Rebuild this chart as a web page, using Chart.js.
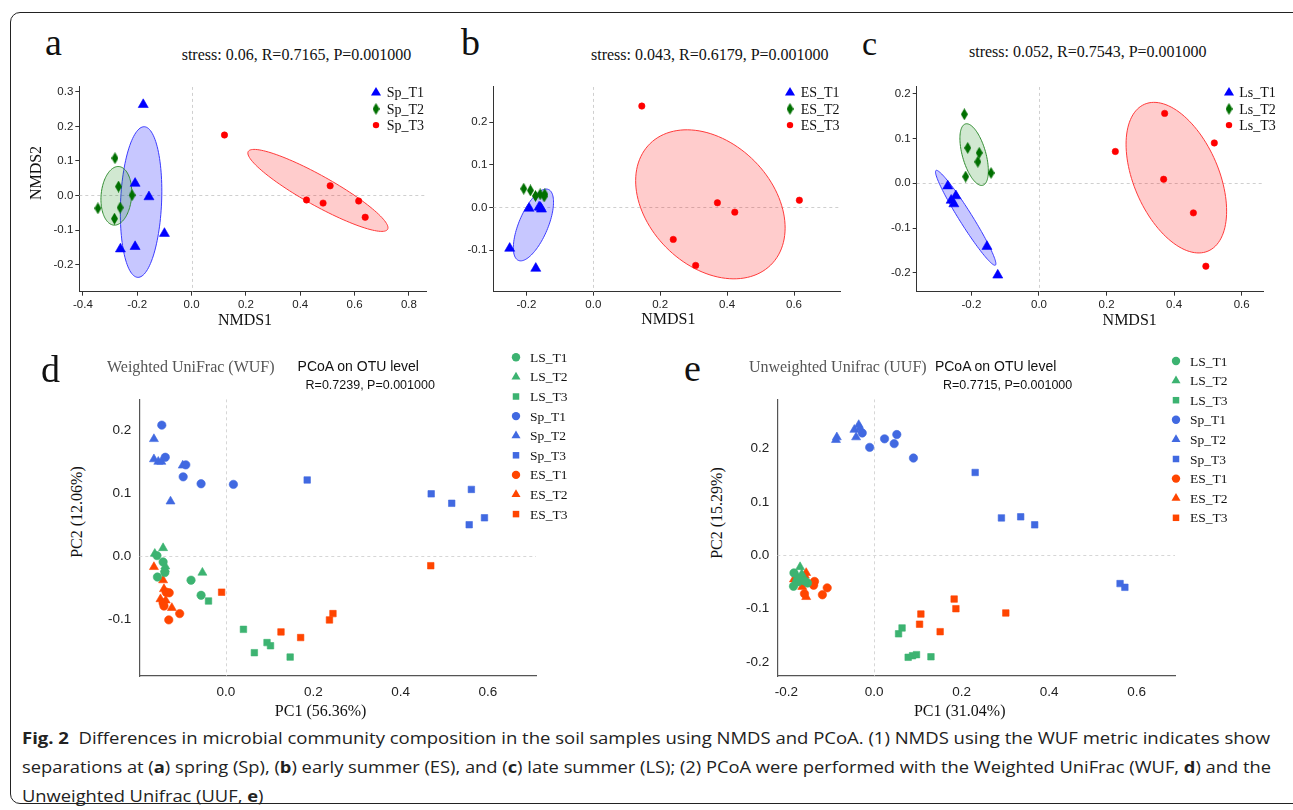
<!DOCTYPE html>
<html><head><meta charset="utf-8">
<script src="https://cdn.jsdelivr.net/npm/chart.js@4.4.0/dist/chart.umd.min.js"></script>
<style>
html,body{margin:0;padding:0;background:#fff;width:1293px;height:810px;overflow:hidden;position:relative;}
#frame{position:absolute;left:10px;top:12px;width:1320px;height:792px;border:1.5px solid #222;border-radius:10px;box-sizing:border-box;}
canvas{position:absolute;}
.t{position:absolute;white-space:nowrap;line-height:1;}
.cap{position:absolute;left:22px;white-space:nowrap;font-family:"Open Sans",sans-serif;font-size:16px;color:#222;transform-origin:0 50%;line-height:1;}
.cap b{font-weight:700;}
</style></head><body>
<div id="frame"></div>
<div class="cap" id="cap1"><b>Fig. 2</b>&nbsp; Differences in microbial community composition in the soil samples using NMDS and PCoA. (1) NMDS using the WUF metric indicates show</div>
<div class="cap" id="cap2">separations at (<b>a</b>) spring (Sp), (<b>b</b>) early summer (ES), and (<b>c</b>) late summer (LS); (2) PCoA were performed with the Weighted UniFrac (WUF, <b>d</b>) and the</div>
<div class="cap" id="cap3">Unweighted Unifrac (UUF, <b>e</b>)</div>
<script>
// ================= DATA =================
// Panel a (NMDS, spring)
const a_Sp_T1 = [[-0.178,0.263],[-0.208,0.035],[-0.157,-0.004],[-0.10,-0.11],[-0.208,-0.148],[-0.262,-0.155]];
const a_Sp_T2 = [[-0.282,0.108],[-0.269,0.026],[-0.219,0.001],[-0.263,-0.035],[-0.345,-0.037],[-0.284,-0.067]];
const a_Sp_T3 = [[0.121,0.175],[0.51,0.028],[0.423,-0.013],[0.484,-0.022],[0.615,-0.016],[0.639,-0.063]];
const a_xTicks = [-0.4,-0.2,0,0.2,0.4,0.6,0.8], a_yTicks = [-0.2,-0.1,0,0.1,0.2,0.3];
const a_xRange = [-0.4134,0.8654], a_yRange = [-0.2785,0.3143];
// ellipses: [cx, cy, ax, ay, bx, by]
const a_ellT1 = [-0.186,-0.019,0.012,0.218,0.0754,-0.0026];
const a_ellT2 = [-0.277,-0.001,0.0092,0.0848,0.056,-0.0037];
const a_ellT3 = [0.465,0.0147,0.2565,-0.1126,-0.027,-0.0375];

// Panel b (NMDS, early summer)
const b_ES_T1 = [[-0.25,-0.096],[-0.192,-0.002],[-0.162,0.001],[-0.155,-0.004],[-0.158,0.0],[-0.172,-0.143]];
const b_ES_T2 = [[-0.208,0.044],[-0.188,0.04],[-0.173,0.027],[-0.159,0.031],[-0.147,0.026],[-0.145,0.031]];
const b_ES_T3 = [[0.145,0.238],[0.616,0.017],[0.371,0.011],[0.423,-0.011],[0.239,-0.075],[0.306,-0.136]];
const b_xTicks = [-0.2,0,0.2,0.4,0.6], b_yTicks = [-0.1,0,0.1,0.2];
const b_xRange = [-0.299,0.7375], b_yRange = [-0.1977,0.283];
const b_ellT1 = [-0.179,-0.041,0.0448,0.0833,0.040,-0.013];
const b_ellT3 = [0.35,0.0074,0.18,-0.1428,-0.1324,-0.101];

// Panel c (NMDS, late summer)
const c_Ls_T1 = [[-0.27,-0.006],[-0.246,-0.028],[-0.26,-0.038],[-0.252,-0.046],[-0.154,-0.141],[-0.122,-0.205]];
const c_Ls_T2 = [[-0.221,0.154],[-0.211,0.079],[-0.177,0.068],[-0.181,0.048],[-0.217,0.015],[-0.142,0.023]];
const c_Ls_T3 = [[0.372,0.156],[0.226,0.071],[0.519,0.09],[0.369,0.009],[0.457,-0.066],[0.494,-0.185]];
const c_xTicks = [-0.2,0,0.2,0.4,0.6], c_yTicks = [-0.2,-0.1,0,0.1,0.2];
const c_xRange = [-0.362,0.664], c_yRange = [-0.2419,0.2151];
const c_ellT1 = [-0.217,-0.077,0.0879,-0.1057,-0.0164,-0.0075];
const c_ellT2 = [-0.192,0.064,0.0256,-0.0685,-0.0334,-0.0069];
const c_ellT3 = [0.4066,0.0126,0.0935,-0.164,-0.1158,-0.0366];

// Panel d (PCoA, weighted UniFrac)
const d_LS_T1 = [[-0.158,0.001],[-0.144,-0.009],[-0.14,-0.026],[-0.157,-0.033],[-0.08,-0.038],[-0.057,-0.062]];
const d_LS_T2 = [[-0.163,0.004],[-0.144,0.013],[-0.139,-0.016],[-0.14,-0.02],[-0.054,-0.026]];
const d_LS_T3 = [[-0.04,-0.071],[0.04,-0.116],[0.065,-0.153],[0.094,-0.137],[0.102,-0.142],[0.147,-0.16]];
const d_Sp_T1 = [[-0.147,0.208],[-0.139,0.157],[-0.092,0.145],[-0.098,0.126],[-0.057,0.115],[0.017,0.114]];
const d_Sp_T2 = [[-0.165,0.186],[-0.165,0.154],[-0.155,0.15],[-0.148,0.15],[-0.099,0.144],[-0.127,0.087]];
const d_Sp_T3 = [[0.186,0.121],[0.47,0.099],[0.517,0.084],[0.562,0.106],[0.592,0.061],[0.557,0.05]];
const d_ES_T1 = [[-0.13,-0.058],[-0.137,-0.057],[-0.144,-0.074],[-0.142,-0.079],[-0.106,-0.091],[-0.131,-0.101]];
const d_ES_T2 = [[-0.165,-0.017],[-0.144,-0.038],[-0.142,-0.052],[-0.15,-0.068],[-0.138,-0.07],[-0.124,-0.082]];
const d_ES_T3 = [[-0.01,-0.057],[0.126,-0.12],[0.171,-0.129],[0.237,-0.101],[0.245,-0.091],[0.469,-0.015]];
const d_xTicks = [0,0.2,0.4,0.6], d_yTicks = [-0.1,0,0.1,0.2];
const d_xRange = [-0.1985,0.71], d_yRange = [-0.19,0.249];

// Panel e (PCoA, unweighted UniFrac)
const e_LS_T1 = [[-0.183,-0.033],[-0.184,-0.058],[-0.177,-0.05],[-0.152,-0.052],[-0.17,-0.045],[-0.158,-0.048]];
const e_LS_T2 = [[-0.169,-0.022],[-0.175,-0.04],[-0.16,-0.05],[-0.178,-0.052],[-0.165,-0.035]];
const e_LS_T3 = [[0.056,-0.147],[0.064,-0.136],[0.078,-0.191],[0.088,-0.188],[0.097,-0.186],[0.13,-0.19]];
const e_Sp_T1 = [[-0.027,0.229],[-0.01,0.202],[0.024,0.218],[0.052,0.226],[0.046,0.209],[0.09,0.182]];
const e_Sp_T2 = [[-0.085,0.221],[-0.087,0.216],[-0.045,0.235],[-0.035,0.244],[-0.041,0.221],[-0.032,0.238]];
const e_Sp_T3 = [[0.231,0.155],[0.291,0.07],[0.335,0.072],[0.367,0.057],[0.562,-0.053],[0.573,-0.06]];
const e_ES_T1 = [[-0.136,-0.049],[-0.138,-0.056],[-0.107,-0.061],[-0.118,-0.074],[-0.159,-0.072],[-0.14,-0.053]];
const e_ES_T2 = [[-0.183,-0.045],[-0.165,-0.044],[-0.155,-0.033],[-0.164,-0.059],[-0.155,-0.078],[-0.158,-0.038]];
const e_ES_T3 = [[0.107,-0.11],[0.104,-0.129],[0.151,-0.143],[0.183,-0.082],[0.187,-0.1],[0.301,-0.108]];
const e_xTicks = [-0.2,0,0.2,0.4,0.6], e_yTicks = [-0.2,-0.1,0,0.1,0.2];
const e_xRange = [-0.221,0.6875], e_yRange = [-0.226,0.292];

// ================= STYLE / LAYOUT =================
const SERIF = '"Liberation Serif","Times New Roman",serif';
const SANS = '"Liberation Sans",Arial,sans-serif';
const BLUE1='#0000ff', GREEN1='#007000', RED1='#ff0000';
const GREEN2='#3cb371', BLUE2='#4169e1', RED2='#ff4500';
const ELL = {
  blue:{fill:'rgba(0,0,255,0.22)',stroke:'#3a3aff'},
  green:{fill:'rgba(0,128,0,0.18)',stroke:'#2e8b2e'},
  red:{fill:'rgba(255,0,0,0.2)',stroke:'#ff3a3a'}
};

// tall narrow diamond marker
const diamond = document.createElement('canvas');
diamond.width = 7; diamond.height = 12;
(function(){const g=diamond.getContext('2d');g.fillStyle=GREEN1;g.beginPath();g.moveTo(3.5,0);g.lineTo(7,6);g.lineTo(3.5,12);g.lineTo(0,6);g.closePath();g.fill();})();

function pts(arr){return arr.map(p=>({x:p[0],y:p[1]}));}
function ds(label, arr, style, color, r){
  return {label, data:pts(arr), pointStyle:style, pointRadius:r, pointHoverRadius:r,
    backgroundColor:color, borderColor:color, borderWidth:0.6};
}

function drawMarker(ctx, style, x, y, r, color){
  ctx.save(); ctx.fillStyle=color;
  if (style instanceof HTMLCanvasElement){ ctx.drawImage(style, x-style.width/2, y-style.height/2); ctx.restore(); return; }
  ctx.beginPath();
  if (style==='circle'){ ctx.arc(x,y,r,0,Math.PI*2); }
  else if (style==='triangle'){ ctx.moveTo(x, y-r); ctx.lineTo(x+0.866*r, y+0.5*r); ctx.lineTo(x-0.866*r, y+0.5*r); ctx.closePath(); }
  else if (style==='rect'){ const s=r*Math.SQRT1_2; ctx.rect(x-s,y-s,2*s,2*s); }
  ctx.fill(); ctx.restore();
}

const ellPlugin = {
  id:'ell',
  beforeDatasetsDraw(chart, args, o){
    const {ctx, chartArea:ca} = chart; const sx=chart.scales.x, sy=chart.scales.y;
    ctx.save(); ctx.beginPath(); ctx.rect(ca.left,ca.top,ca.right-ca.left,ca.bottom-ca.top); ctx.clip();
    // dashed zero reference lines
    ctx.strokeStyle=o.zeroColor; ctx.lineWidth=1; ctx.setLineDash([3,3]);
    const x0=Math.round(sx.getPixelForValue(0))+0.5, y0=Math.round(sy.getPixelForValue(0))+0.5;
    ctx.beginPath(); ctx.moveTo(x0,ca.top); ctx.lineTo(x0,ca.bottom); ctx.moveTo(ca.left,y0); ctx.lineTo(ca.right,y0); ctx.stroke();
    ctx.setLineDash([]);
    (o.list||[]).forEach(item=>{
      const e=item.p; const st=ELL[item.c];
      ctx.beginPath();
      for(let i=0;i<=120;i++){
        const t=i/120*Math.PI*2;
        const vx=e[0]+e[2]*Math.cos(t)+e[4]*Math.sin(t);
        const vy=e[1]+e[3]*Math.cos(t)+e[5]*Math.sin(t);
        const px=sx.getPixelForValue(vx), py=sy.getPixelForValue(vy);
        if(i===0) ctx.moveTo(px,py); else ctx.lineTo(px,py);
      }
      ctx.closePath(); ctx.fillStyle=st.fill; ctx.fill(); ctx.strokeStyle=st.stroke; ctx.lineWidth=1; ctx.stroke();
    });
    ctx.restore();
  }
};
const legPlugin = {
  id:'leg',
  afterDraw(chart, args, o){
    if(!o || !o.show) return;
    const ctx=chart.ctx; ctx.save(); ctx.font=o.font; ctx.textBaseline='middle'; ctx.textAlign='left';
    chart.data.datasets.forEach((d,i)=>{
      const y=o.y+i*o.dy;
      drawMarker(ctx, d.pointStyle, o.mx, y, d.pointRadius*(o.ms||1), d.backgroundColor);
      ctx.fillStyle='#111'; ctx.fillText(d.label, o.tx, y+1);
    });
    ctx.restore();
  }
};

function mkChart(rect, box, xr, yr, xt, yt, sets, ells, leg, look){
  const cv=document.createElement('canvas');
  cv.width=rect[2]; cv.height=rect[3];
  cv.style.left=rect[0]+'px'; cv.style.top=rect[1]+'px'; cv.style.width=rect[2]+'px'; cv.style.height=rect[3]+'px';
  document.body.appendChild(cv);
  const yW=box[0]-rect[0], padT=box[1]-rect[1], padR=rect[0]+rect[2]-box[2], xH=rect[1]+rect[3]-box[3];
  const axis=(range,ticks,isX)=>({
    type:'linear', position:isX?'bottom':'left', min:range[0], max:range[1],
    afterBuildTicks:s=>{ s.ticks=ticks.map(v=>({value:v})); },
    afterFit:s=>{ if(isX) s.height=xH; else s.width=yW; },
    grid:{display:true, drawOnChartArea:false, drawTicks:look.ticks, tickLength:look.tickLen, tickColor:look.axis, color:look.axis, tickWidth:1},
    border:{display:true, color:look.axis, width:look.axisW},
    ticks:{font:{family:SANS,size:look.tickSize}, color:'#222', padding:look.tickPad, autoSkip:false, maxRotation:0, minRotation:0,
      callback:v=>Number(v).toFixed(1)}
  });
  const legOpt = Object.assign({show:true}, leg, {mx:leg.mx-rect[0], tx:leg.tx-rect[0], y:leg.y-rect[1]});
  return new Chart(cv,{
    type:'scatter',
    data:{datasets:sets},
    options:{responsive:false, animation:false, events:[],
      layout:{autoPadding:false, padding:{left:0,top:padT,right:padR,bottom:0}},
      plugins:{legend:{display:false}, tooltip:{enabled:false}, ell:{list:ells, zeroColor:look.zero}, leg:legOpt},
      scales:{x:axis(xr,xt,true), y:axis(yr,yt,false)}},
    plugins:[ellPlugin, legPlugin]
  });
}

const lookNMDS={axis:'#333',axisW:1,ticks:true,tickLen:4,tickPad:2,tickSize:11.5,zero:'#cfcfcf'};
const lookPCoA={axis:'#555',axisW:1.2,ticks:false,tickLen:0,tickPad:8,tickSize:13.5,zero:'#d6d6d6'};
const legNMDS={font:'14px '+SERIF, dy:16.2};
const legPCoA={font:'13.5px '+SERIF, dy:19.6};

// Panel a
mkChart([30,78,445,240],[79.3,85,426.7,291.7],a_xRange,a_yRange,a_xTicks,a_yTicks,
  [ds('Sp_T1',a_Sp_T1,'triangle',BLUE1,5.8), ds('Sp_T2',a_Sp_T2,diamond,GREEN1,5), ds('Sp_T3',a_Sp_T3,'circle',RED1,3.2)],
  [{p:a_ellT1,c:'blue'},{p:a_ellT2,c:'green'},{p:a_ellT3,c:'red'}],
  Object.assign({mx:376,tx:386.7,y:92.7},legNMDS), lookNMDS);
// Panel b
mkChart([445,78,410,240],[493.3,85,840,291.7],b_xRange,b_yRange,b_xTicks,b_yTicks,
  [ds('ES_T1',b_ES_T1,'triangle',BLUE1,5.8), ds('ES_T2',b_ES_T2,diamond,GREEN1,5), ds('ES_T3',b_ES_T3,'circle',RED1,3.2)],
  [{p:b_ellT1,c:'blue'},{p:b_ellT3,c:'red'}],
  Object.assign({mx:790,tx:800.7,y:92.7},legNMDS), lookNMDS);
// Panel c
mkChart([868,78,420,240],[916.7,84.3,1263.3,291.7],c_xRange,c_yRange,c_xTicks,c_yTicks,
  [ds('Ls_T1',c_Ls_T1,'triangle',BLUE1,5.8), ds('Ls_T2',c_Ls_T2,diamond,GREEN1,5), ds('Ls_T3',c_Ls_T3,'circle',RED1,3.2)],
  [{p:c_ellT1,c:'blue'},{p:c_ellT2,c:'green'},{p:c_ellT3,c:'red'}],
  Object.assign({mx:1229,tx:1239.3,y:92.7},legNMDS), lookNMDS);
// Panel d
mkChart([90,345,500,360],[139.3,399.3,536,676],d_xRange,d_yRange,d_xTicks,d_yTicks,
  [ds('LS_T1',d_LS_T1,'circle',GREEN2,4.2), ds('LS_T2',d_LS_T2,'triangle',GREEN2,5.2), ds('LS_T3',d_LS_T3,'rect',GREEN2,4.6),
   ds('Sp_T1',d_Sp_T1,'circle',BLUE2,4.2), ds('Sp_T2',d_Sp_T2,'triangle',BLUE2,5.2), ds('Sp_T3',d_Sp_T3,'rect',BLUE2,4.6),
   ds('ES_T1',d_ES_T1,'circle',RED2,4.2), ds('ES_T2',d_ES_T2,'triangle',RED2,5.2), ds('ES_T3',d_ES_T3,'rect',RED2,4.6)],
  [], Object.assign({mx:516,tx:530,y:357.3},legPCoA), lookPCoA);
// Panel e
mkChart([728,345,520,360],[777.3,399.3,1175,676],e_xRange,e_yRange,e_xTicks,e_yTicks,
  [ds('LS_T1',e_LS_T1,'circle',GREEN2,4.2), ds('LS_T2',e_LS_T2,'triangle',GREEN2,5.2), ds('LS_T3',e_LS_T3,'rect',GREEN2,4.6),
   ds('Sp_T1',e_Sp_T1,'circle',BLUE2,4.2), ds('Sp_T2',e_Sp_T2,'triangle',BLUE2,5.2), ds('Sp_T3',e_Sp_T3,'rect',BLUE2,4.6),
   ds('ES_T1',e_ES_T1,'circle',RED2,4.2), ds('ES_T2',e_ES_T2,'triangle',RED2,5.2), ds('ES_T3',e_ES_T3,'rect',RED2,4.6)],
  [], Object.assign({mx:1176,tx:1190,y:361},legPCoA), lookPCoA);

// ================= TEXT (real DOM text) =================
// [text, x, baseline, size, family, align('l'|'c'|'r'), color, rotated]
const texts = [
  ['a',45,55,38,'serif','l','#111',false],
  ['b',461,55,38,'serif','l','#111',false],
  ['c',862,55,34,'serif','l','#111',false],
  ['stress: 0.06, R=0.7165, P=0.001000',181.7,60,16,'serif','l','#111',false],
  ['stress: 0.043, R=0.6179, P=0.001000',591,60,16,'serif','l','#111',false],
  ['stress: 0.052, R=0.7543, P=0.001000',969,57.5,16,'serif','l','#111',false],
  ['NMDS1',245,325,16,'serif','c','#111',false],
  ['NMDS1',668.3,324.5,16,'serif','c','#111',false],
  ['NMDS1',1129.7,325,16,'serif','c','#111',false],
  ['NMDS2',41.7,173.3,16,'serif','c','#111',true],
  ['d',41,381.5,38,'serif','l','#111',false],
  ['e',684,380.5,38,'serif','l','#111',false],
  ['Weighted UniFrac (WUF)',107,372,16,'serif','l','#555',false],
  ['PCoA on OTU level',297.6,371,14,'sans','l','#111',false],
  ['R=0.7239, P=0.001000',305.6,390,12.5,'sans','l','#111',false],
  ['Unweighted Unifrac (UUF)',748.9,372,16,'serif','l','#555',false],
  ['PCoA on OTU level',934.9,371,14,'sans','l','#111',false],
  ['R=0.7715, P=0.001000',943,390,12.5,'sans','l','#111',false],
  ['PC1 (56.36%)',320.6,716,16,'serif','c','#111',false],
  ['PC1 (31.04%)',959.7,716.5,16,'serif','c','#111',false],
  ['PC2 (12.06%)',82.5,511.7,16,'serif','c','#111',true],
  ['PC2 (15.29%)',722,513.3,16,'serif','c','#111',true]
];
texts.forEach(t=>{
  const [s,x,b,size,fam,al,col,rot]=t;
  const el=document.createElement('div'); el.className='t'; el.textContent=s;
  el.style.fontFamily = fam==='serif'?SERIF:SANS; el.style.fontSize=size+'px'; el.style.color=col;
  const k = fam==='serif'?0.8375:0.8465;
  if(rot){
    // x = baseline x, b = center y
    const cx = x - (k-0.5)*size;
    el.style.left=cx+'px'; el.style.top=b+'px';
    el.style.transform='translate(-50%,-50%) rotate(-90deg)';
  } else {
    el.style.left=x+'px'; el.style.top=(b-k*size)+'px';
    if(al==='c') el.style.transform='translateX(-50%)';
    else if(al==='r') el.style.transform='translateX(-100%)';
  }
  document.body.appendChild(el);
});

// caption placement (baselines) and width fitting
const capK=0.888, capSize=16;
[['cap1',744,1248],['cap2',773.3,1249],['cap3',802,null]].forEach(c=>{
  const el=document.getElementById(c[0]);
  el.style.top=(c[1]-capK*capSize)+'px';
});
function fitCaps(){
  const e1=document.getElementById('cap1'), e2=document.getElementById('cap2'), e3=document.getElementById('cap3');
  const s1=1248/e1.getBoundingClientRect().width, s2=1249/e2.getBoundingClientRect().width;
  e1.style.transform='scaleX('+s1+')'; e2.style.transform='scaleX('+s2+')'; e3.style.transform='scaleX('+s2+')';
}
fitCaps();
</script>
</body></html>
